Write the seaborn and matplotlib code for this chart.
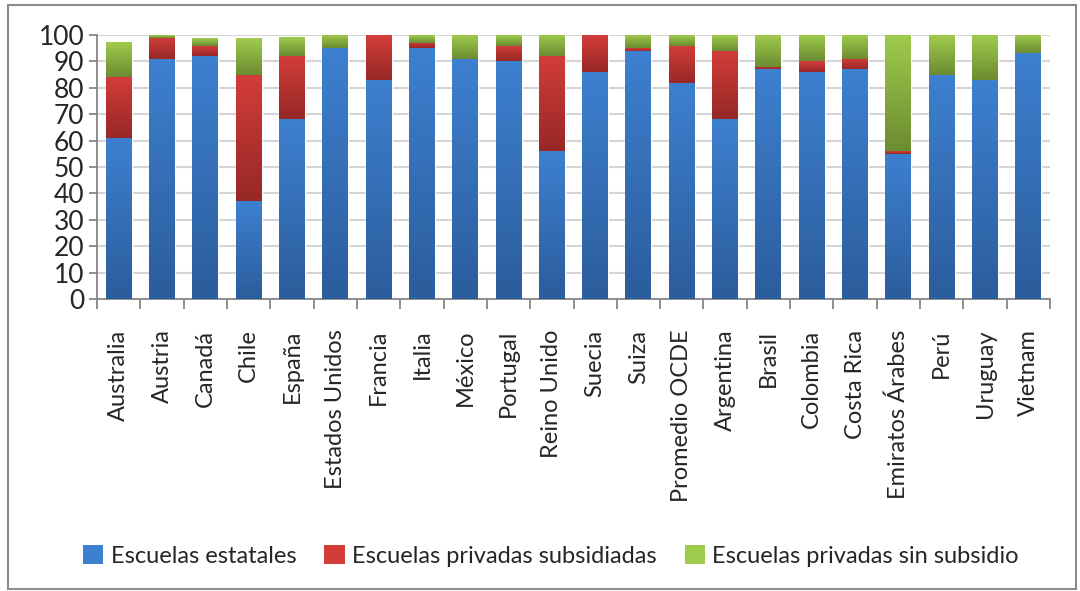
import numpy as np
import pandas as pd
import matplotlib
matplotlib.use('Agg')
import matplotlib.pyplot as plt
import seaborn as sns
from matplotlib.colors import LinearSegmentedColormap
from matplotlib.patches import Rectangle, Patch

# datos (porcentaje de estudiantes por tipo de escuela)
paises = ['Australia', 'Austria', 'Canadá', 'Chile', 'España', 'Estados Unidos',
          'Francia', 'Italia', 'México', 'Portugal', 'Reino Unido', 'Suecia',
          'Suiza', 'Promedio OCDE', 'Argentina', 'Brasil', 'Colombia', 'Costa Rica',
          'Emiratos Árabes', 'Perú', 'Uruguay', 'Vietnam']
estatales = [61, 91, 92, 37, 68, 95, 83, 95, 91, 90, 56, 86, 94, 82, 68, 87, 86, 87, 55, 85, 83, 93]
subsidiadas = [23, 8, 4, 48, 24, 0, 17, 2, 0, 6, 36, 14, 1, 14, 26, 1, 4, 4, 1, 0, 0, 0]
sin_subsidio = [13, 1, 3, 14, 7, 5, 0, 3, 9, 4, 8, 0, 5, 4, 6, 12, 10, 9, 44, 15, 17, 7]
series = ['Escuelas estatales', 'Escuelas privadas subsidiadas', 'Escuelas privadas sin subsidio']

df = pd.DataFrame({'pais': paises, 'est': estatales, 'sub': subsidiadas, 'sin': sin_subsidio})
df['base_sin'] = df['est'] + df['sub']

# colores (abajo oscuro, arriba claro)
grad = {
    'est': ('#2c5d9c', '#3d80d0'),
    'sub': ('#972826', '#d23d3a'),
    'sin': ('#6c8c32', '#9fcb4c'),
}

sns.set_theme(style='white')
plt.rcParams['font.family'] = ['Lato', 'DejaVu Sans']

fig = plt.figure(figsize=(10.8, 5.91), dpi=100)
ax = fig.add_axes([97 / 1080, 1 - 299 / 591, (1050 - 97) / 1080, (299 - 35) / 591])

w = 0.6
sns.barplot(data=df, x='pais', y='est', color=grad['est'][1], width=w, ax=ax, zorder=2)
sns.barplot(data=df, x='pais', y='sub', bottom=df['est'], color=grad['sub'][1], width=w, ax=ax, zorder=2)
sns.barplot(data=df, x='pais', y='sin', bottom=df['base_sin'], color=grad['sin'][1], width=w, ax=ax, zorder=2)

# degradado en cada segmento
n = len(paises)
claves = ['est'] * n + ['sub'] * n + ['sin'] * n
g = np.linspace(0, 1, 64).reshape(-1, 1)
for p, k in zip(ax.patches, claves):
    x0, y0 = p.get_x(), p.get_y()
    pw, ph = p.get_width(), p.get_height()
    if ph <= 0:
        continue
    cmap = LinearSegmentedColormap.from_list(k, grad[k])
    ax.imshow(g, cmap=cmap, origin='lower', extent=[x0, x0 + pw, y0, y0 + ph],
              aspect='auto', zorder=3)
ax.set_xlim(-0.5, n - 0.5)
ax.set_ylim(0, 100)

# ejes
ax.set_yticks(range(0, 101, 10))
ax.yaxis.grid(True, color='#d4d4d4', linewidth=1.5, zorder=0)
ax.xaxis.grid(False)
ax.set_axisbelow(True)
for s in ['top', 'right']:
    ax.spines[s].set_visible(False)
for s in ['left', 'bottom']:
    ax.spines[s].set_color('#868686')
    ax.spines[s].set_linewidth(1.3)
ax.set_xlabel('')
ax.set_ylabel('')
ax.tick_params(axis='y', left=True, length=6, width=1.3, color='#868686', labelsize=19, pad=3)
ax.tick_params(axis='x', bottom=False, labelsize=17, rotation=90, pad=16)
ax.set_xticks(np.arange(n + 1) - 0.5, minor=True)
ax.tick_params(axis='x', which='minor', bottom=True, length=7, width=1.3, color='#868686')
for t in ax.get_xticklabels():
    t.set_va('top')

# leyenda
handles = [Patch(facecolor=grad[k][1], edgecolor='none') for k in ['est', 'sub', 'sin']]
fig.legend(handles, series, loc='center', bbox_to_anchor=(0.51, 0.059), ncol=3,
           frameon=False, fontsize=17, handlelength=0.85, handleheight=0.85,
           handletextpad=0.3, columnspacing=1.2)

# marco del gráfico
fig.patches.append(Rectangle((8 / 1080, 2 / 591), 1068 / 1080, 584 / 591, transform=fig.transFigure,
                             fill=False, edgecolor='#8c8c8c', linewidth=1.5))

fig.savefig('out.png', dpi=100)
